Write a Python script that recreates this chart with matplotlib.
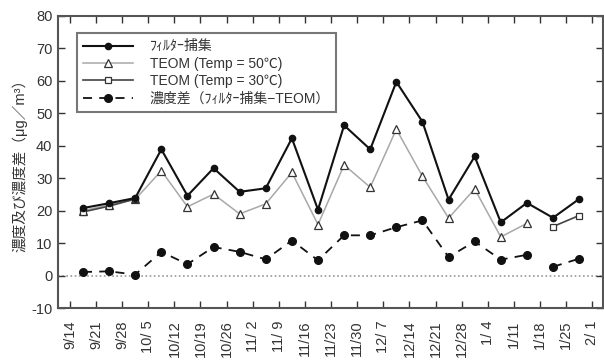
import numpy as np
import matplotlib
matplotlib.use('Agg')
import matplotlib.pyplot as plt

plt.rcParams['font.family'] = ['Liberation Sans', 'Noto Sans CJK JP']
plt.rcParams['axes.unicode_minus'] = False

# week start labels (tick at each date), values are weekly samples in between
week_labels = ['9/14', '9/21', '9/28', '10/ 5', '10/12', '10/19', '10/26', '11/ 2',
               '11/ 9', '11/16', '11/23', '11/30', '12/ 7', '12/14', '12/21',
               '12/28', '1/ 4', '1/11', '1/18', '1/25', '2/ 1']
week_days = np.arange(0, 7 * len(week_labels), 7)

nan = np.nan
filter_vals = [20.8, 22.3, 23.9, 38.9, 24.6, 33.1, 25.8, 26.9, 42.3, 20.3,
               46.3, 38.9, 59.7, 47.4, 23.4, 36.7, 16.4, 22.4, 17.8, 23.6]
teom50 = [20.0, 21.8, 23.5, 32.3, 21.2, 25.1, 19.0, 22.1, 31.8, 15.7,
          34.1, 27.2, 45.1, 30.6, 17.7, 26.7, 11.9, 16.1, nan, nan]
teom30 = [19.6, 21.4, 23.6, nan, nan, nan, nan, nan, nan, nan,
          nan, nan, nan, nan, nan, nan, nan, nan, 15.1, 18.5]
diff_vals = [1.1, 1.3, 0.3, 7.3, 3.5, 8.8, 7.3, 5.0, 10.8, 4.7,
             12.4, 12.4, 14.9, 17.0, 5.7, 10.5, 4.9, 6.4, nan, nan]
diff_vals2 = [nan] * 18 + [2.7, 5.2]

mid_days = week_days[:-1] + 3.5

fig = plt.figure(figsize=(6.04, 3.61), dpi=100)
ax = fig.add_axes([58 / 604, 1 - 308 / 361, 545 / 604, 292 / 361])

ax.axhline(0, color='#999999', linestyle=(0, (1, 1.5)), linewidth=1.2, zorder=1)

ax.plot(mid_days, filter_vals, color='#111111', linewidth=1.5, marker='o',
        markersize=4.5, markerfacecolor='#111111', label='ﾌｨﾙﾀｰ捕集', zorder=4)
ax.plot(mid_days, teom50, color='#a8a8a8', linewidth=1.1, marker='^',
        markersize=6, markerfacecolor='white', markeredgecolor='#333333',
        markeredgewidth=0.9, label='TEOM (Temp = 50℃)', zorder=3)
ax.plot(mid_days, teom30, color='#444444', linewidth=1.2, marker='s',
        markersize=5, markerfacecolor='white', markeredgecolor='#333333',
        markeredgewidth=0.9, label='TEOM (Temp = 30℃)', zorder=3)
ax.plot(mid_days, diff_vals, color='#111111', linewidth=1.3, linestyle=(0, (5, 4)),
        marker='o', markersize=5.5, markerfacecolor='#111111',
        label='濃度差（ﾌｨﾙﾀｰ捕集−TEOM）', zorder=4)
ax.plot(mid_days, diff_vals2, color='#111111', linewidth=1.3, linestyle=(0, (5, 4)),
        marker='o', markersize=5.5, markerfacecolor='#111111', zorder=4)

ax.set_ylim(-10, 80)
ax.set_yticks(np.arange(-10, 81, 10))
ax.set_xlim(week_days[0] - 3.2, week_days[-1] + 2.9)
ax.set_xticks(week_days)
ax.set_xticklabels(week_labels, rotation=90, fontsize=10.5, color='#333333')
ax.tick_params(axis='y', labelsize=10.5, colors='#333333', right=True,
               direction='in', length=5, width=1, pad=4)
ax.tick_params(axis='x', top=True, direction='in', length=5, width=1, pad=9,
               colors='#333333')
for s in ax.spines.values():
    s.set_linewidth(1.5)
    s.set_color('#555555')

ax.set_ylabel('濃度及び濃度差（μg／m³）', fontsize=10.5, color='#333333', labelpad=3)

leg = ax.legend(loc='upper left', bbox_to_anchor=(0.022, 0.965), fontsize=10,
                frameon=True, fancybox=False, handlelength=3.6,
                borderpad=0.45, labelspacing=0.25, handletextpad=1.2)
leg.get_frame().set_edgecolor('#555555')
leg.get_frame().set_linewidth(1.5)
for t in leg.get_texts():
    t.set_color('#333333')

fig.savefig('out.png', dpi=100)
